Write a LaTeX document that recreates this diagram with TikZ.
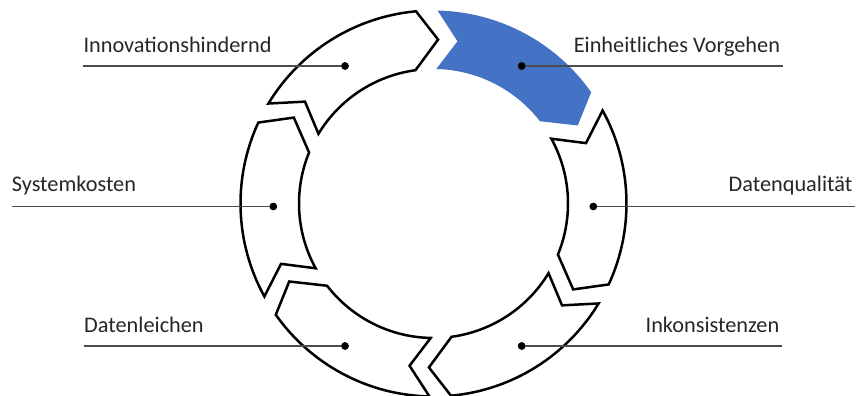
\documentclass[tikz,border=0pt]{standalone}
\usepackage{fontspec}
\setmainfont{Carlito}
\definecolor{segblue}{HTML}{4472C4}
\begin{document}
\begin{tikzpicture}[x=1pt,y=1pt,
  seg/.style={draw=black,line width=2.5pt,line join=miter,fill=white},
  segact/.style={fill=segblue,draw=none},
  lbl/.style={font=\fontsize{22.3}{26}\selectfont,inner sep=0pt,text=black!85},
  leader/.style={draw=black!70,line width=1.2pt},
  dotnode/.style={circle,fill=black,inner sep=0pt,minimum size=7.5pt}]
\useasboundingbox (0,0) rectangle (857,396);
\def\Rout{193}\def\Rin{134.5}\def\Rmid{164}
\begin{scope}[shift={(433.5,192.5)}]
\foreach \T/\st in {88.8/segact, 28.8/seg, -31.2/seg, -91.2/seg, -151.2/seg, 148.8/seg} {
  \pgfmathsetmacro{\aN}{\T-7.2}
  \pgfmathsetmacro{\aI}{\T-51.1}
  \pgfmathsetmacro{\aP}{\T-60.4}
  \pgfmathsetmacro{\aO}{\T-53.6}
  \path[\st] (\T:\Rout) -- (\aN:\Rmid) -- (\T:\Rin)
    arc[start angle=\T, end angle=\aI, radius=\Rin]
    -- (\aP:\Rmid) -- (\aO:\Rout)
    arc[start angle=\aO, end angle=\T, radius=\Rout] -- cycle;
}
\end{scope}
% dots
\node[dotnode] (d1) at (345,330) {};
\node[dotnode] (d2) at (521.7,330) {};
\node[dotnode] (d3) at (593.3,189.5) {};
\node[dotnode] (d4) at (521.7,50) {};
\node[dotnode] (d5) at (345,50) {};
\node[dotnode] (d6) at (273.3,189.5) {};
% leader ends
\coordinate (e1) at (83.3,330);
\coordinate (e2) at (782.7,330);
\coordinate (e3) at (855,189.5);
\coordinate (e4) at (782,50);
\coordinate (e5) at (84,50);
\coordinate (e6) at (11.7,189.5);
\foreach \i in {1,...,6} { \draw[leader] (e\i) -- (d\i.center); }
\foreach \i in {1,...,6} { \node[dotnode] at (d\i) {}; }
% labels
\node[lbl,anchor=base west] (t1) at (83.3,343.7) {Innovationshindernd};
\node[lbl,anchor=base east] (t2) at (780.2,343.7) {Einheitliches Vorgehen};
\node[lbl,anchor=base east] (t3) at (852.5,204) {Datenqualität};
\node[lbl,anchor=base east] (t4) at (779.5,63.7) {Inkonsistenzen};
\node[lbl,anchor=base west] (t5) at (84,63.7) {Datenleichen};
\node[lbl,anchor=base west] (t6) at (11.7,204) {Systemkosten};
\end{tikzpicture}
\end{document}
